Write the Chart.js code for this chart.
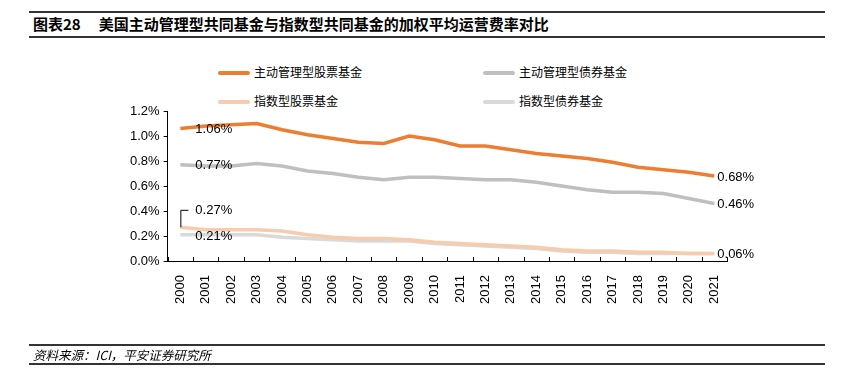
<!DOCTYPE html>
<html>
<head>
<meta charset="utf-8">
<script src="https://cdn.jsdelivr.net/npm/chart.js@4.4.1/dist/chart.umd.min.js"></script>
<style>
  body { margin: 0; background: #fff; font-family: "Noto Sans CJK SC", "Liberation Sans", sans-serif; }
  #wrap { position: relative; width: 849px; height: 384px; overflow: hidden; }
  #chart { position: absolute; left: 0; top: 0; }
  .rule { position: absolute; left: 29px; width: 796px; height: 2px; background: #333; }
  .title { position: absolute; left: 33px; top: 13px; font-size: 15px; font-weight: bold; color: #000; line-height: 22px; }
  .title span { margin-left: 18px; }
  .source { position: absolute; left: 33px; top: 347px; font-size: 12.5px; font-style: italic; color: #000; line-height: 16px; }
  .leg { position: absolute; font-size: 12px; color: #000; line-height: 16px; }
  .leg i { display: inline-block; width: 32px; height: 4px; border-radius: 2px; vertical-align: middle; margin-right: 4px; position: relative; top: -1px; }
</style>
</head>
<body>
<div id="wrap">
  <div class="rule" style="top:11px"></div>
  <div class="title">图表28<span>美国主动管理型共同基金与指数型共同基金的加权平均运营费率对比</span></div>
  <div class="rule" style="top:36px"></div>
  <div id="legend"></div>
  <canvas id="chart" width="849" height="384"></canvas>
  <div class="rule" style="top:344px"></div>
  <div class="source">资料来源：ICI，平安证券研究所</div>
  <div class="rule" style="top:363px"></div>
</div>
<script>
const years = ['2000','2001','2002','2003','2004','2005','2006','2007','2008','2009','2010',
  '2011','2012','2013','2014','2015','2016','2017','2018','2019','2020','2021'];

// 费率 (%)
const activeEquity = [1.06, 1.08, 1.09, 1.10, 1.05, 1.01, 0.98, 0.95, 0.94, 1.00, 0.97,
  0.92, 0.92, 0.89, 0.86, 0.84, 0.82, 0.79, 0.75, 0.73, 0.71, 0.68];
const activeBond = [0.77, 0.76, 0.76, 0.78, 0.76, 0.72, 0.70, 0.67, 0.65, 0.67, 0.67,
  0.66, 0.65, 0.65, 0.63, 0.60, 0.57, 0.55, 0.55, 0.54, 0.50, 0.46];
const indexEquity = [0.27, 0.25, 0.25, 0.25, 0.24, 0.21, 0.19, 0.18, 0.18, 0.17, 0.15,
  0.14, 0.13, 0.12, 0.11, 0.09, 0.08, 0.08, 0.07, 0.07, 0.06, 0.06];
const indexBond = [0.21, 0.21, 0.21, 0.21, 0.19, 0.18, 0.17, 0.16, 0.16, 0.16, 0.14,
  0.13, 0.12, 0.11, 0.10, 0.08, 0.07, 0.07, 0.06, 0.06, 0.06, 0.06];

const seriesNames = ['主动管理型股票基金', '主动管理型债券基金', '指数型股票基金', '指数型债券基金'];
const seriesColors = ['#ED7D31', '#BFBFBF', '#F8CBAD', '#D9D9D9'];
const seriesData = [activeEquity, activeBond, indexEquity, indexBond];

// 图例（两列）
const legendPos = [[218, 64], [483, 64], [218, 93], [483, 93]];
let legendHtml = '';
seriesNames.forEach((name, i) => {
  legendHtml += '<div class="leg" style="left:' + legendPos[i][0] + 'px;top:' + legendPos[i][1] + 'px">' +
    '<i style="background:' + seriesColors[i] + '"></i>' + name + '</div>';
});
document.getElementById('legend').innerHTML = legendHtml;

const fmt = v => v.toFixed(2) + '%';
const axisFont = { family: '"Liberation Sans", Arial, sans-serif', size: 13 };

// 数据标签 + 横轴内侧刻度
const extras = {
  id: 'extras',
  afterDatasetsDraw(chart) {
    const ctx = chart.ctx;
    const x = chart.scales.x, y = chart.scales.y;
    const last = years.length - 1;
    ctx.save();
    ctx.font = '13px "Liberation Sans", Arial, sans-serif';
    ctx.fillStyle = '#000';
    ctx.textBaseline = 'middle';
    ctx.textAlign = 'left';

    const x0 = x.getPixelForValue(0);
    ctx.fillText(fmt(activeEquity[0]), x0 + 15, y.getPixelForValue(activeEquity[0]) + 1);
    ctx.fillText(fmt(activeBond[0]), x0 + 15, y.getPixelForValue(activeBond[0]) + 1);
    ctx.fillText(fmt(indexBond[0]), x0 + 15, y.getPixelForValue(indexBond[0]) + 2);
    // 0.27% 带引线
    const py = y.getPixelForValue(indexEquity[0]);
    ctx.strokeStyle = '#000';
    ctx.lineWidth = 1;
    ctx.beginPath();
    ctx.moveTo(x0 + 0.5, py);
    ctx.lineTo(x0 + 0.5, py - 17);
    ctx.lineTo(x0 + 8, py - 17);
    ctx.stroke();
    ctx.fillText(fmt(indexEquity[0]), x0 + 15, py - 17);

    const xl = x.getPixelForValue(last);
    ctx.fillText(fmt(activeEquity[last]), xl + 3, y.getPixelForValue(activeEquity[last]) + 1);
    ctx.fillText(fmt(activeBond[last]), xl + 3, y.getPixelForValue(activeBond[last]) + 1);
    ctx.fillText(fmt(indexEquity[last]), xl + 3, y.getPixelForValue(indexEquity[last]) + 1);

    // 横轴刻度（朝上）
    const yb = y.getPixelForValue(0);
    ctx.beginPath();
    for (let i = 0; i <= years.length; i++) {
      const px = Math.round((x.getPixelForValue(i - 0.5))) + 0.5;
      ctx.moveTo(px, yb);
      ctx.lineTo(px, yb - 4);
    }
    ctx.stroke();
    ctx.restore();
  }
};

const datasets = seriesNames.map((name, i) => ({
  label: name,
  data: seriesData[i],
  borderColor: seriesColors[i],
  backgroundColor: seriesColors[i],
  borderWidth: 3.5,
  pointRadius: 0,
  tension: 0,
  order: i + 1
}));

new Chart(document.getElementById('chart'), {
  type: 'line',
  data: { labels: years, datasets: datasets },
  plugins: [extras],
  options: {
    responsive: false,
    animation: false,
    layout: { padding: { left: 126, right: 122, top: 111, bottom: 74 } },
    plugins: { legend: { display: false }, tooltip: { enabled: false } },
    scales: {
      x: {
        offset: true,
        grid: { display: false },
        border: { color: '#000', width: 1 },
        ticks: { color: '#000', minRotation: 90, maxRotation: 90, padding: 6, font: axisFont }
      },
      y: {
        min: 0, max: 1.2,
        grid: { drawOnChartArea: false, drawTicks: true, tickLength: 4, color: '#000' },
        border: { color: '#000', width: 1 },
        ticks: {
          stepSize: 0.2, color: '#000', padding: 4, font: axisFont,
          callback: v => v.toFixed(1) + '%'
        }
      }
    }
  }
});
</script>
</body>
</html>
